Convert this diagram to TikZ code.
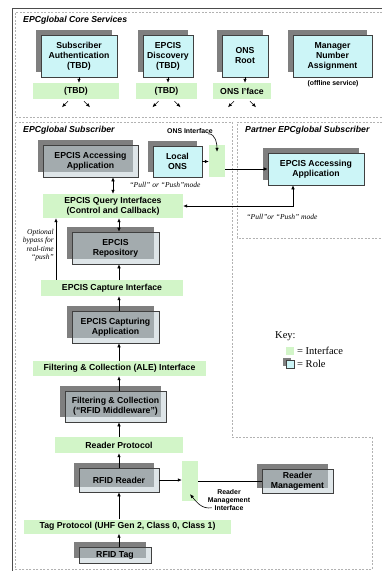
\documentclass[tikz,border=0pt]{standalone}
\usepackage{fontspec}
\setmainfont{Liberation Serif}
\setsansfont{Liberation Sans}
\usetikzlibrary{arrows.meta,shadows}
\definecolor{ifgreen}{HTML}{D2F5C8}
\definecolor{rolecyan}{HTML}{CCF5F7}
\definecolor{rolegray}{HTML}{C2D0D6}
\definecolor{shgray}{HTML}{7F7F7F}
\newcommand{\boxfont}{\fontsize{8.7}{10}\selectfont\sffamily\bfseries}
\newcommand{\lblfont}{\fontsize{6.9}{8}\selectfont\sffamily\bfseries}

\begin{document}
\begin{tikzpicture}[
  x=1pt,y=-1pt,
  role/.style={draw=black!75,line width=0.6pt,fill=rolecyan,font=\boxfont,align=center,inner sep=0pt,
    drop shadow={shadow xshift=-5pt,shadow yshift=5pt,fill=shgray,opacity=1}},
  greyrole/.style={role,fill=rolegray,fill opacity=0.55,text opacity=1},
  iface/.style={fill=ifgreen,font=\boxfont,align=center,inner sep=0pt},
  zone/.style={gray!60,line width=0.6pt,dash pattern=on 2pt off 1.5pt},
  frame/.style={gray!60!black,line width=0.8pt},
  zonelabel/.style={font=\fontsize{8.7}{10}\selectfont\sffamily\bfseries\itshape,anchor=west,inner sep=0pt},
  remark/.style={font=\fontsize{7.5}{8.4}\selectfont\itshape,inner sep=0pt},
  smalllbl/.style={font=\lblfont,align=center,inner sep=0pt},
  keylbl/.style={font=\fontsize{10.5}{12}\selectfont,anchor=west,inner sep=0pt},
  arr/.style={-{Latex[length=4pt,width=3.5pt]},line width=0.6pt},
  dbl/.style={{Latex[length=4pt,width=3.5pt]}-{Latex[length=4pt,width=3.5pt]},line width=0.6pt},
  plain/.style={line width=0.6pt}
]
\useasboundingbox (0,0) rectangle (382,571);
\draw[frame] (12,571) -- (12,8) -- (382,8);
\draw[zone] (382,12) -- (15,12) -- (15,117) -- (382,117);
\draw[zone] (15,122) -- (232,122) -- (232,437) -- (372,437) -- (372,569) -- (15,569) -- cycle;
\draw[zone] (382,122) -- (237,122) -- (237,238) -- (382,238);

\node[zonelabel] (corelbl) at (23,20) {EPCglobal Core Services};
\node[zonelabel] (sublbl) at (23,130) {EPCglobal Subscriber};
\node[zonelabel] (partlbl) at (245,130) {Partner EPCglobal Subscriber};

\node[role,minimum width=76pt,minimum height=42pt] (auth) at (79,56) {Subscriber\\Authentication\\(TBD)};
\node[role,minimum width=50pt,minimum height=42pt] (disc) at (168,56) {EPCIS\\Discovery\\(TBD)};
\node[role,minimum width=46pt,minimum height=42pt] (onsroot) at (245,56) {ONS\\Root};
\node[role,minimum width=79pt,minimum height=42pt] (mgr) at (332.5,56) {Manager\\Number\\Assignment};
\node[smalllbl] (offl) at (333,84) {(offline service)};

\node[iface,minimum width=86pt,minimum height=16pt] (authif) at (76,91) {(TBD)};
\node[iface,minimum width=61pt,minimum height=16pt] (discif) at (166.5,91) {(TBD)};
\node[iface,minimum width=58pt,minimum height=16pt] (onsif) at (242,91) {ONS I’face};

\foreach \r/\i in {auth/authif,disc/discif,onsroot/onsif}
  \draw[arr] (\r.south) -- (\r.south |- \i.north);
\foreach \i in {authif,discif,onsif} {
  \draw[arr] ([xshift=-8pt,yshift=-2pt]\i.south) -- ++(-6,6);
  \draw[arr] ([xshift=8pt,yshift=-2pt]\i.south) -- ++(6,6);
}

\node[greyrole,minimum width=95pt,minimum height=32pt] (acc) at (90.5,161) {EPCIS Accessing\\Application};
\node[role,minimum width=49pt,minimum height=31pt] (lons) at (177.5,161.5) {Local\\ONS};
\node[iface,minimum width=16pt,minimum height=32pt] (onsif2) at (217,161) {};
\node[smalllbl] (onslbl) at (190,131) {ONS Interface};
\node[role,minimum width=96pt,minimum height=32pt] (pacc) at (316,169) {EPCIS Accessing\\Application};

\node[iface,minimum width=140pt,minimum height=24pt] (qif) at (113,206) {EPCIS Query Interfaces\\(Control and Callback)};
\node[greyrole,minimum width=87pt,minimum height=32pt] (repo) at (115.5,248) {EPCIS\\Repository};
\node[iface,minimum width=142pt,minimum height=16pt] (capif) at (112,288) {EPCIS Capture Interface};
\node[greyrole,minimum width=87pt,minimum height=32pt] (capt) at (115.5,327) {EPCIS Capturing\\Application};
\node[iface,minimum width=173pt,minimum height=15pt] (aleif) at (119.5,368.5) {Filtering \& Collection (ALE) Interface};
\node[greyrole,minimum width=101pt,minimum height=31pt] (filt) at (115.5,406.5) {Filtering \& Collection\\(“RFID Middleware”)};
\node[iface,minimum width=128pt,minimum height=16pt] (rpif) at (119,445) {Reader Protocol};
\node[greyrole,minimum width=80pt,minimum height=24pt] (reader) at (119,480) {RFID Reader};
\node[iface,minimum width=16pt,minimum height=40pt] (rmif) at (190,481) {};
\node[greyrole,minimum width=71pt,minimum height=24pt] (rmgmt) at (297.5,481) {Reader\\Management};
\node[smalllbl] (rmlbl) at (229,500) {Reader\\Management\\Interface};
\node[iface,minimum width=207pt,minimum height=14pt] (tagif) at (127.5,526.5) {Tag Protocol (UHF Gen 2, Class 0, Class 1)};
\node[greyrole,minimum width=72pt,minimum height=16pt] (tag) at (115,555) {RFID Tag};

\node[remark] (pull1) at (165,185) {“Pull” or “Push”mode};
\node[remark] (pull2) at (282,217) {“Pull”or “Push” mode};
\node[remark,anchor=east,align=right] (bypasslbl) at (54,245) {Optional\\bypass for\\real-time\\“push”};

\coordinate (spine) at (119,0);
\coordinate (bypass) at (56,0);
\foreach \a/\b in {capif/repo,capt/capif,aleif/capt,filt/aleif,rpif/filt,reader/rpif,tagif/reader,tag/tagif}
  \draw[arr] (\a.north -| spine) -- (\b.south -| spine);
\draw[dbl] (qif.north |- acc.south) -- (qif.north);
\draw[dbl] (qif.south -| spine) -- (repo.north -| spine);
\draw[arr] (capif.north -| bypass) -- (qif.south -| bypass);
\draw[arr] (lons.east) -- (onsif2.west |- lons.east);
\draw[arr] (onsif2.east |- pacc.west) -- (pacc.west);
\draw[dbl] (qif.east) -| ([xshift=-23pt]pacc.south);
\draw[arr] ([xshift=-5pt]onslbl.south east) to[out=0,in=90] ([yshift=-7pt]onsif2.north);
\draw[arr] (reader.east) -- (reader.east -| rmif.west);
\draw[plain] (rmif.east |- rmgmt.west) -- (rmgmt.west);
\draw[arr] ([xshift=4pt,yshift=3pt]rmlbl.south west) to[out=190,in=-50] ([yshift=7pt]rmif.south);

\node[keylbl] (key) at (275,336) {Key:};
\node[fill=ifgreen,minimum size=8pt,inner sep=0pt] (keyif) at (290,351) {};
\node[keylbl] (keyiflbl) at (297,351) {= Interface};
\node[draw=black!75,line width=0.6pt,fill=rolecyan,minimum size=8pt,inner sep=0pt,
  drop shadow={shadow xshift=-3pt,shadow yshift=2pt,fill=shgray,opacity=1}] (keyrole) at (290,364) {};
\node[keylbl] (keyrolelbl) at (297,364) {= Role};
\end{tikzpicture}
\end{document}
